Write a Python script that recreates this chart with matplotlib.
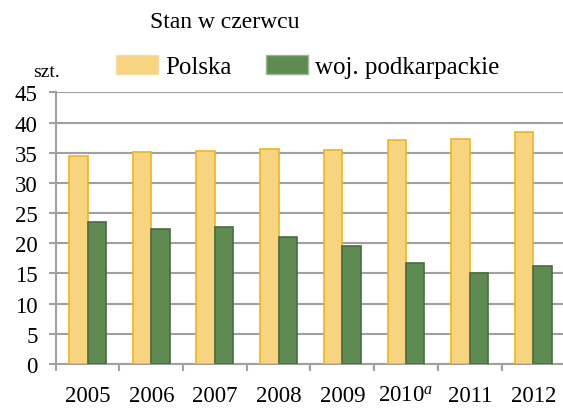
import numpy as np
import matplotlib.pyplot as plt
from matplotlib.patches import Patch

plt.rcParams['font.family'] = ['Liberation Serif', 'DejaVu Serif']
plt.rcParams['mathtext.fontset'] = 'custom'
plt.rcParams['mathtext.rm'] = 'Liberation Serif'
plt.rcParams['mathtext.it'] = 'Liberation Serif:italic'

# dane
years = ['2005', '2006', '2007', '2008', '2009', '2010$^{a}$', '2011', '2012']
polska = [34.5, 35.1, 35.3, 35.6, 35.5, 37.2, 37.3, 38.4]
podkarpackie = [23.6, 22.4, 22.7, 21.1, 19.6, 16.8, 15.1, 16.3]

yellow_fill, yellow_edge = '#F7D47F', '#F0B323'
green_fill, green_edge = '#5F8B52', '#4A6B3F'
grid_col = '#A0A0A0'

fig = plt.figure(figsize=(5.63, 4.10), dpi=100)
ax = fig.add_axes([0.099, 0.110, 0.905, 0.662])

x = np.arange(len(years))
w = 0.29
ax.bar(x - w / 2, polska, w, color=yellow_fill, edgecolor=yellow_edge, linewidth=1.2, zorder=3)
ax.bar(x + w / 2, podkarpackie, w, color=green_fill, edgecolor=green_edge, linewidth=1.2, zorder=3)

ax.set_xlim(-0.5, len(years) - 0.5)
ax.set_ylim(0, 45)
ax.set_yticks(np.arange(0, 46, 5))
ax.yaxis.grid(True, color=grid_col, linewidth=1.5, zorder=0)
ax.set_axisbelow(True)

ax.set_xticks(x)
ax.set_xticklabels(years, fontsize=16.5)
ax.set_xticks(np.arange(-0.5, len(years) - 0.5, 1), minor=True)
ax.tick_params(axis='x', which='major', length=0, pad=15)
ax.tick_params(axis='x', which='minor', length=5, width=1.5, color=grid_col)
ax.tick_params(axis='y', length=5, width=1.5, color=grid_col, labelsize=16.5, pad=8)

for s in ['top', 'right']:
    ax.spines[s].set_visible(False)
for s in ['left', 'bottom']:
    ax.spines[s].set_color(grid_col)
    ax.spines[s].set_linewidth(1.5)

fig.text(0.40, 0.945, 'Stan w czerwcu', ha='center', va='center', fontsize=17)
fig.text(0.082, 0.822, 'szt.', ha='center', va='center', fontsize=14)

handles = [Patch(facecolor=yellow_fill, edgecolor='#F2DDA8', label='Polska'),
           Patch(facecolor=green_fill, edgecolor='#9DB593', label='woj. podkarpackie')]
fig.legend(handles=handles, loc='center', bbox_to_anchor=(0.547, 0.835), ncol=2,
           frameon=False, fontsize=18, handlelength=1.65, handleheight=0.75,
           handletextpad=0.3, columnspacing=1.4)

fig.savefig('out.png', dpi=100)
